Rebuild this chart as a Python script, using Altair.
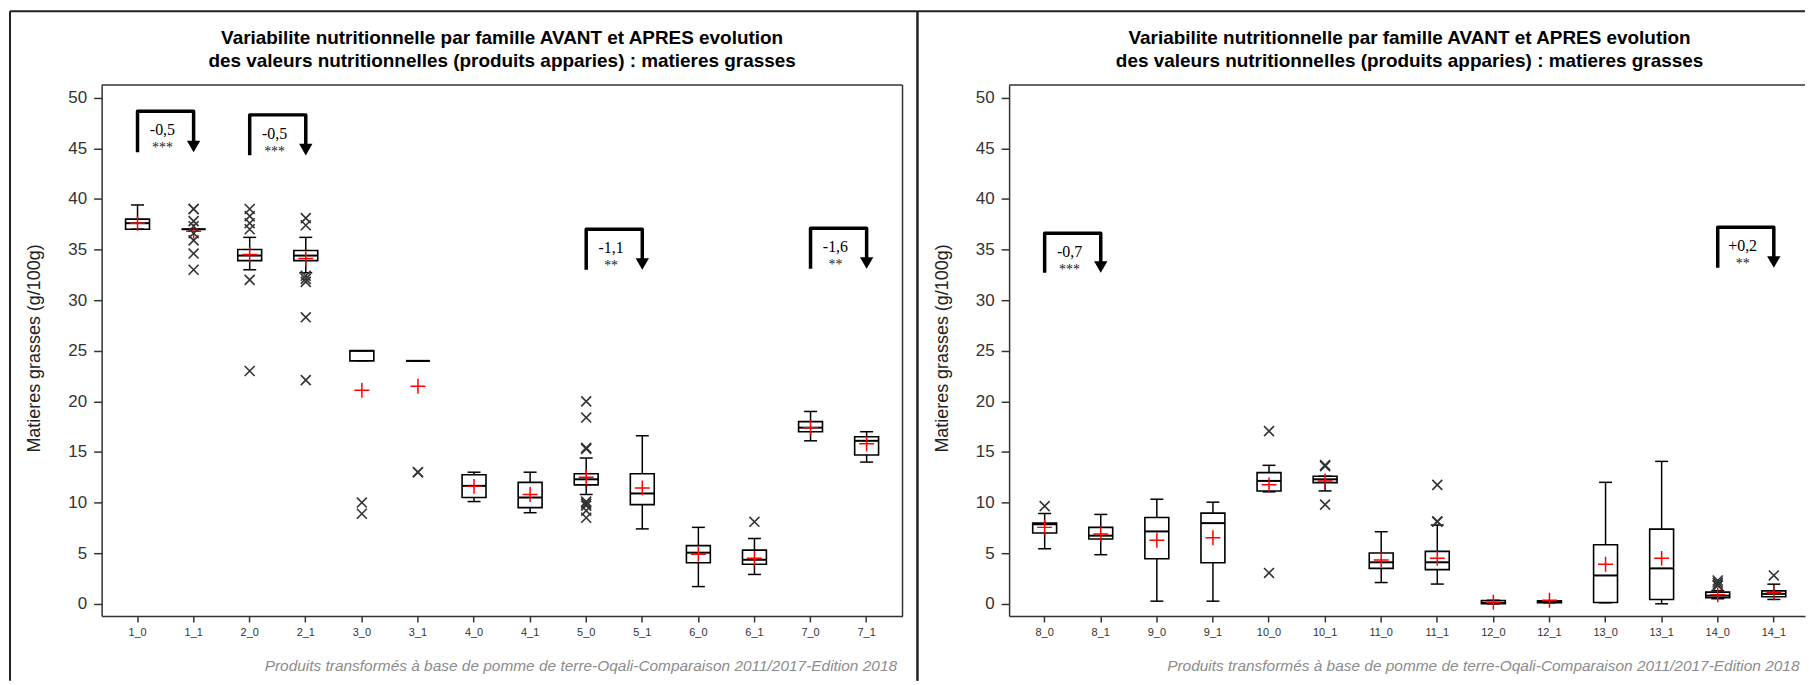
import altair as alt
import pandas as pd

# ---------------- data ----------------
title_lines = [
    "Variabilite nutritionnelle par famille AVANT et APRES evolution",
    "des valeurs nutritionnelles (produits apparies) : matieres grasses",
]
y_title = "Matieres grasses (g/100g)"
footer = "Produits transformés à base de pomme de terre-Oqali-Comparaison 2011/2017-Edition 2018"
y_ticks = [0, 5, 10, 15, 20, 25, 30, 35, 40, 45, 50]

# left panel
cats_left = ["1_0", "1_1", "2_0", "2_1", "3_0", "3_1", "4_0", "4_1", "5_0", "5_1", "6_0", "6_1", "7_0", "7_1"]
wlo_left = [37.0, 37.0, 33.0, 32.7, 24.0, 24.0, 10.1, 9.0, 10.8, 7.4, 1.7, 2.9, 16.1, 14.0]
q1_left = [37.0, 37.0, 33.9, 33.9, 24.0, 24.0, 10.5, 9.5, 11.75, 9.8, 4.05, 3.9, 17.0, 14.7]
med_left = [37.6, 37.0, 34.4, 34.4, 25.0, 24.0, 11.65, 10.5, 12.3, 10.9, 5.05, 4.35, 17.4, 16.1]
q3_left = [38.0, 37.0, 35.0, 34.9, 25.0, 24.0, 12.75, 12.0, 12.85, 12.85, 5.75, 5.3, 18.0, 16.5]
whi_left = [39.4, 37.0, 36.2, 36.2, 25.0, 24.0, 13.0, 13.0, 14.4, 16.6, 7.55, 6.45, 19.0, 17.0]
mean_left = [37.6, 36.8, 34.5, 34.1, 21.1, 21.5, 11.6, 10.8, 12.5, 11.45, 4.9, 4.5, 17.4, 15.8]
out_left = [
    [],
    [39.0, 39.0, 37.8, 37.3, 36.6, 35.9, 34.6, 33.0],
    [39.0, 38.3, 37.6, 37.0, 32.0, 23.0],
    [38.1, 37.4, 32.4, 32.1, 31.8, 28.3, 22.1],
    [10.0, 8.9],
    [13.0, 13.0],
    [],
    [],
    [20.0, 18.4, 15.4, 15.3, 10.1, 9.9, 9.7, 9.2, 8.5],
    [],
    [],
    [8.1],
    [],
    [],
]
ann_from_left = ["1_0", "2_0", "5_0", "7_0"]
ann_to_left = ["1_1", "2_1", "5_1", "7_1"]
ann_top_left = [48.65, 48.3, 37.0, 37.1]
ann_base_left = [44.6, 44.3, 33.0, 33.1]
ann_text_left = ["-0,5", "-0,5", "-1,1", "-1,6"]
ann_stars_left = ["***", "***", "**", "**"]

# right panel
cats_right = ["8_0", "8_1", "9_0", "9_1", "10_0", "10_1", "11_0", "11_1", "12_0", "12_1", "13_0", "13_1", "14_0", "14_1"]
wlo_right = [5.45, 4.85, 0.26, 0.26, 11.06, 11.15, 2.1, 1.95, 0.0, 0.1, 0.1, 0.0, 0.5, 0.43]
q1_right = [7.0, 6.4, 4.45, 4.05, 11.15, 11.97, 3.5, 3.38, 0.0, 0.1, 0.13, 0.43, 0.6, 0.69]
med_right = [7.87, 6.73, 7.15, 7.97, 12.14, 12.3, 4.1, 4.1, 0.1, 0.2, 2.8, 3.5, 0.8, 0.98]
q3_right = [7.97, 7.55, 8.53, 8.96, 12.96, 12.6, 5.02, 5.18, 0.33, 0.3, 5.84, 7.38, 1.15, 1.28]
whi_right = [8.92, 8.83, 10.33, 10.04, 13.68, 12.6, 7.12, 7.78, 0.35, 0.3, 12.0, 14.07, 1.3, 1.94]
mean_right = [7.55, 6.89, 6.27, 6.53, 11.75, 12.14, 4.33, 4.49, 0.16, 0.35, 3.9, 4.49, 0.89, 1.08]
out_right = [
    [9.65],
    [],
    [],
    [],
    [17.06, 3.05],
    [13.7, 13.6, 9.8],
    [],
    [11.75, 8.15, 8.1],
    [],
    [],
    [],
    [],
    [2.3, 2.1, 1.9, 1.8],
    [2.8],
]
ann_from_right = ["8_0", "14_0"]
ann_to_right = ["8_1", "14_1"]
ann_top_right = [36.6, 37.2]
ann_base_right = [32.7, 33.2]
ann_text_right = ["-0,7", "+0,2"]
ann_stars_right = ["***", "**"]

# ---------------- styling ----------------
SANS = "Liberation Sans"
SERIF = "Liberation Serif"
AXIS_COL = "#333333"
PLUS = "M-1,0H1M0,-1V1"
XSHAPE = "M-1,-1L1,1M-1,1L1,-1"
H = 533


def panel(cats, wlo, q1, med, q3, whi, mean, outs, afrom, ato, atop, abase, atext, astars,
          width, pad_outer, align, right_border):
    box = pd.DataFrame({"cat": cats, "lo": wlo, "q1": q1, "med": med, "q3": q3, "hi": whi, "mean": mean})
    out = pd.DataFrame([{"cat": c, "v": v} for c, vals in zip(cats, outs) for v in vals])
    br_rows = []
    for i, (a, b, t, s) in enumerate(zip(afrom, ato, atop, abase)):
        br_rows += [
            {"grp": i, "ord": 0, "cat": a, "y": s},
            {"grp": i, "ord": 1, "cat": a, "y": t},
            {"grp": i, "ord": 2, "cat": b, "y": t},
            {"grp": i, "ord": 3, "cat": b, "y": s + 1.0},
        ]
    br = pd.DataFrame(br_rows)
    arrows = pd.DataFrame({"cat": ato, "y": abase})
    labels = pd.DataFrame({"cat": afrom, "top": atop, "txt": atext, "stars": astars})
    one = pd.DataFrame({"k": [0]})

    xscale = alt.Scale(domain=cats, paddingInner=0, paddingOuter=pad_outer, align=align)
    yscale = alt.Scale(domain=[-1.2, 51.25], nice=False, zero=False)

    x_axis = alt.Axis(
        labelAngle=0, labelFontSize=11, labelColor=AXIS_COL, labelFont=SANS,
        tickSize=6, tickColor=AXIS_COL, tickWidth=1.5,
        domainColor=AXIS_COL, domainWidth=1.5, labelPadding=5, grid=False,
        title=footer, titleFont=SANS, titleFontStyle="italic", titleFontWeight="normal",
        titleFontSize=15.5, titleColor="#8c8c8c", titleX=width - 6, titleY=50,
        titleAlign="right", titleBaseline="middle", titleAnchor="end",
    )
    y_axis = alt.Axis(
        values=y_ticks, labelFontSize=17, labelColor=AXIS_COL, labelFont=SANS,
        tickSize=8, tickColor=AXIS_COL, tickWidth=1.5,
        domainColor=AXIS_COL, domainWidth=1.5, labelPadding=7, grid=False,
        title=y_title, titleFont=SANS, titleFontSize=18, titleFontWeight="normal",
        titleColor="#222222", titleX=-67, titleY=264, titleAngle=270,
        titleAlign="center", titleBaseline="middle",
    )

    def X():
        return alt.X("cat:N", scale=xscale, axis=x_axis, sort=cats, title=footer)

    def Y(field):
        return alt.Y(field, type="quantitative", scale=yscale, axis=y_axis, title=y_title)

    whisk = alt.Chart(box).mark_rule(color="black", strokeWidth=1.5).encode(
        x=X(), y=Y("lo"), y2="hi")
    boxes = alt.Chart(box).mark_bar(size=24, fill="white", stroke="black", strokeWidth=1.6, opacity=1).encode(
        x=X(), y=Y("q1"), y2="q3")
    medians = alt.Chart(box).mark_tick(size=24, thickness=2, color="black", opacity=1).encode(
        x=X(), y=Y("med"))
    cap_lo = alt.Chart(box).mark_tick(size=13, thickness=1.5, color="black", opacity=1).encode(
        x=X(), y=Y("lo"))
    cap_hi = alt.Chart(box).mark_tick(size=13, thickness=1.5, color="black", opacity=1).encode(
        x=X(), y=Y("hi"))
    means = alt.Chart(box).mark_point(shape=PLUS, size=225, color="#ff0000", strokeWidth=1.5,
                                      filled=False, opacity=1).encode(x=X(), y=Y("mean"))
    outliers = alt.Chart(out).mark_point(shape=XSHAPE, size=100, color="#333333", strokeWidth=1.6,
                                         filled=False, opacity=1).encode(x=X(), y=Y("v"))
    brackets = alt.Chart(br).mark_line(color="black", strokeWidth=3.5, strokeJoin="round",
                                       strokeCap="butt").encode(
        x=X(), y=Y("y"), detail="grp:N", order="ord:Q")
    heads = alt.Chart(arrows).transform_calculate(yc="datum.y + 0.57").mark_point(
        shape="triangle-down", filled=True, color="black", size=180, opacity=1).encode(
        x=X(), y=Y("yc:Q"))
    txt = alt.Chart(labels).mark_text(font=SERIF, fontSize=16, color="black", dx=25, dy=19,
                                      baseline="middle", align="center").encode(
        x=X(), y=Y("top"), text="txt:N")
    stars = alt.Chart(labels).mark_text(font=SERIF, fontSize=14, color="#222222", dx=25, dy=37,
                                        baseline="middle", align="center").encode(
        x=X(), y=Y("top"), text="stars:N")

    # decorations: plot frame top (and right), panel border, titles
    deco = [
        alt.Chart(one).mark_rule(color=AXIS_COL, strokeWidth=1.5).encode(
            x=alt.value(0), x2=alt.value(width), y=alt.value(0)),
        alt.Chart(one).mark_rule(color="#222222", strokeWidth=2).encode(
            x=alt.value(-92), x2=alt.value(width + 15 if right_border else width), y=alt.value(-74)),
        alt.Chart(one).mark_rule(color="#222222", strokeWidth=2).encode(
            x=alt.value(-92), y=alt.value(-74), y2=alt.value(598)),
        alt.Chart(one).mark_text(font=SANS, fontSize=19, fontWeight="bold", color="black",
                                 align="center", baseline="middle").encode(
            x=alt.value(402), y=alt.value(-47), text=alt.value(title_lines[0])),
        alt.Chart(one).mark_text(font=SANS, fontSize=19, fontWeight="bold", color="black",
                                 align="center", baseline="middle").encode(
            x=alt.value(402), y=alt.value(-24), text=alt.value(title_lines[1])),
    ]
    if right_border:
        deco += [
            alt.Chart(one).mark_rule(color=AXIS_COL, strokeWidth=1.5).encode(
                x=alt.value(width), y=alt.value(0), y2=alt.value(H)),
            alt.Chart(one).mark_rule(color="#222222", strokeWidth=2).encode(
                x=alt.value(width + 15), y=alt.value(-74), y2=alt.value(598)),
        ]

    return alt.layer(whisk, boxes, medians, cap_lo, cap_hi, means, outliers,
                     brackets, heads, txt, stars, *deco).properties(width=width, height=H)


left = panel(cats_left, wlo_left, q1_left, med_left, q3_left, whi_left, mean_left, out_left,
             ann_from_left, ann_to_left, ann_top_left, ann_base_left, ann_text_left, ann_stars_left,
             width=804, pad_outer=0.14, align=0.5, right_border=True)
right = panel(cats_right, wlo_right, q1_right, med_right, q3_right, whi_right, mean_right, out_right,
              ann_from_right, ann_to_right, ann_top_right, ann_base_right, ann_text_right, ann_stars_right,
              width=799, pad_outer=0.095, align=0.705, right_border=False)

chart = alt.hconcat(left, right, spacing=107, bounds="flush").properties(
    padding={"left": 1, "top": 1, "right": 0, "bottom": 0}
).configure(font=SANS).configure_view(stroke=None)

chart.save("out.html", embed_options={"renderer": "svg", "actions": False})
